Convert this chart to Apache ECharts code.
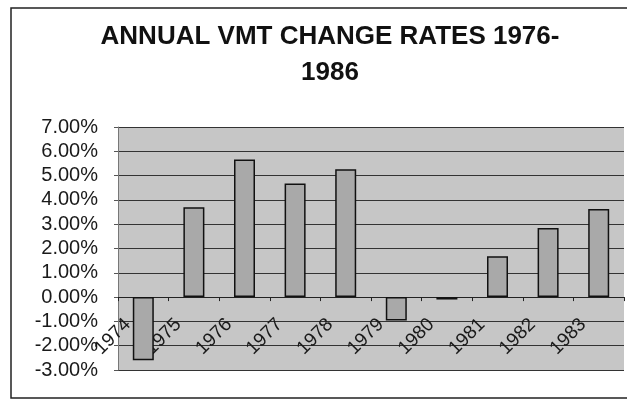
<!DOCTYPE html>
<html>
<head>
<meta charset="utf-8">
<script src="https://cdn.jsdelivr.net/npm/echarts@6/dist/echarts.min.js"></script>
<style>
  html, body { margin: 0; padding: 0; background: #fff; }
  #chart { width: 627px; height: 401px; }
</style>
</head>
<body>
<div id="chart"></div>
<script>
// annual VMT change, percent
var years = ['1974', '1975', '1976', '1977', '1978', '1979', '1980', '1981', '1982', '1983'];
var changeRates = [-2.6, 3.7, 5.66, 4.67, 5.26, -0.96, -0.1, 1.68, 2.84, 3.63];

var yMin = -3, yMax = 7;
var gridTop = 127, gridBottom = 31, chartH = 401;

// put the category axis on the zero line (labels included)
var plotH = chartH - gridTop - gridBottom;
var zeroOffset = -plotH * (0 - yMin) / (yMax - yMin);

var myChart = echarts.init(document.getElementById('chart'));

var option = {
  animation: false,
  title: {
    text: 'ANNUAL VMT CHANGE RATES 1976-\n1986',
    left: 325,
    textAlign: 'center',
    top: 14,
    textStyle: {
      fontFamily: 'Liberation Sans, Arial, sans-serif',
      fontWeight: 'bold',
      fontSize: 26,
      lineHeight: 36,
      color: '#111'
    }
  },
  graphic: [{
    type: 'rect',
    shape: { x: 11, y: 8, width: 640, height: 390 },
    style: { fill: 'none', stroke: '#222', lineWidth: 1.5 },
    z: 100
  }],
  grid: {
    left: 118,
    right: 3,
    top: gridTop,
    bottom: gridBottom,
    show: true,
    backgroundColor: '#c6c6c6',
    borderWidth: 0
  },
  xAxis: {
    type: 'category',
    data: years,
    position: 'bottom',
    offset: zeroOffset,
    axisLine: { onZero: false, lineStyle: { color: '#222', width: 1 } },
    axisTick: { show: true, length: 4, lineStyle: { color: '#222' } },
    axisLabel: {
      interval: 0,
      rotate: 45,
      margin: 9,
      padding: [0, 22, 0, 0],
      fontFamily: 'Liberation Sans, Arial, sans-serif',
      fontSize: 19,
      color: '#1a1a1a'
    }
  },
  yAxis: {
    type: 'value',
    min: yMin,
    max: yMax,
    interval: 1,
    axisLine: { show: true, lineStyle: { color: '#777' } },
    axisTick: { show: true, length: 4, lineStyle: { color: '#555' } },
    splitLine: { lineStyle: { color: '#333', width: 1 } },
    axisLabel: {
      margin: 20,
      fontFamily: 'Liberation Sans, Arial, sans-serif',
      fontSize: 20,
      color: '#1a1a1a',
      formatter: function (v) { return v.toFixed(2) + '%'; }
    }
  },
  series: [{
    type: 'bar',
    data: changeRates,
    barWidth: 21,
    itemStyle: {
      color: '#a9a9a9',
      borderColor: '#111',
      borderWidth: 1.5
    }
  }]
};

myChart.setOption(option);
</script>
</body>
</html>
